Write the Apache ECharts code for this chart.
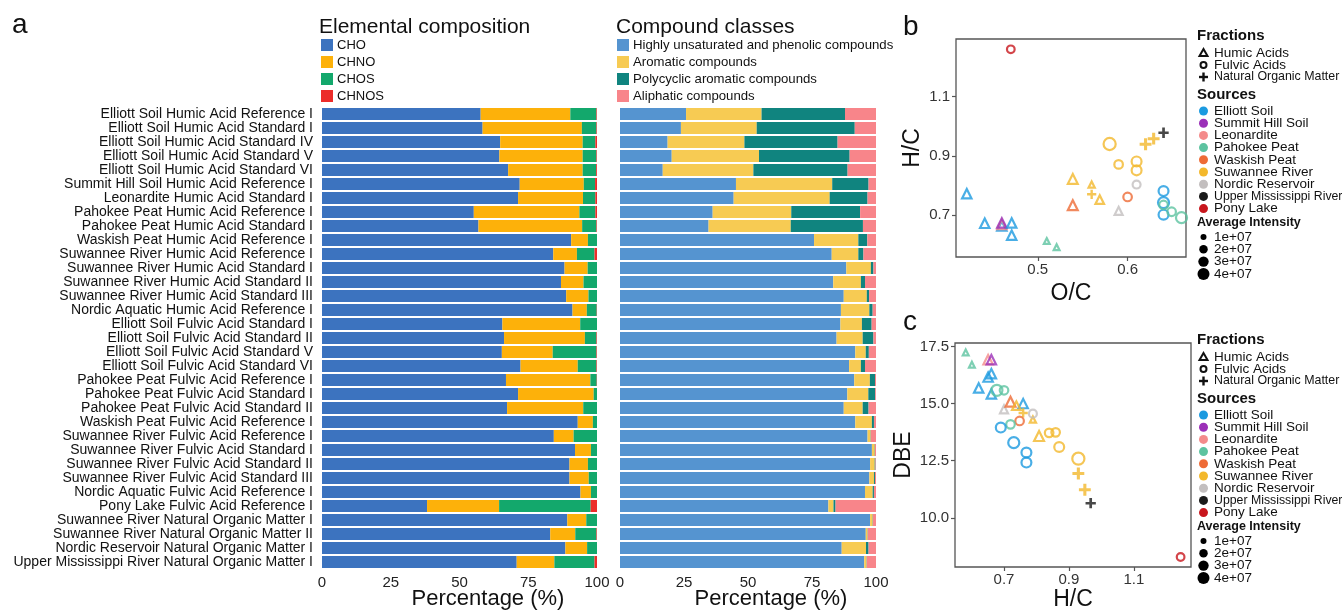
<!DOCTYPE html>
<html><head><meta charset="utf-8">
<script src="https://cdn.jsdelivr.net/npm/echarts@6/dist/echarts.min.js"></script>
<style>html,body{margin:0;padding:0;background:#fff}#c{width:1342px;height:612px}</style>
</head><body><div id="c"></div>
<script>
const samples = [
 'Elliott Soil Humic Acid Reference I','Elliott Soil Humic Acid Standard I','Elliott Soil Humic Acid Standard IV',
 'Elliott Soil Humic Acid Standard V','Elliott Soil Humic Acid Standard VI','Summit Hill Soil Humic Acid Reference I',
 'Leonardite Humic Acid Standard I','Pahokee Peat Humic Acid Reference I','Pahokee Peat Humic Acid Standard I',
 'Waskish Peat Humic Acid Reference I','Suwannee River Humic Acid Reference I','Suwannee River Humic Acid Standard I',
 'Suwannee River Humic Acid Standard II','Suwannee River Humic Acid Standard III','Nordic Aquatic Humic Acid Reference I',
 'Elliott Soil Fulvic Acid Standard I','Elliott Soil Fulvic Acid Standard II','Elliott Soil Fulvic Acid Standard V',
 'Elliott Soil Fulvic Acid Standard VI','Pahokee Peat Fulvic Acid Reference I','Pahokee Peat Fulvic Acid Standard I',
 'Pahokee Peat Fulvic Acid Standard II','Waskish Peat Fulvic Acid Reference I','Suwannee River Fulvic Acid Reference I',
 'Suwannee River Fulvic Acid Standard I','Suwannee River Fulvic Acid Standard II','Suwannee River Fulvic Acid Standard III',
 'Nordic Aquatic Fulvic Acid Reference I','Pony Lake Fulvic Acid Reference I','Suwannee River Natural Organic Matter I',
 'Suwannee River Natural Organic Matter II','Nordic Reservoir Natural Organic Matter I','Upper Mississippi River Natural Organic Matter I'
];
// Elemental composition (%)
const cho   = [57.7,58.4,64.8,64.5,67.7,71.9,71.3,55.2,56.9,90.6,84.1,88.2,86.9,88.8,91.1,65.6,66.2,65.4,72.2,66.9,71.3,67.3,93.0,84.3,92.0,90.0,90.0,94.0,38.2,89.2,83.0,88.5,70.8];
const chno  = [32.6,36.1,30.0,30.3,27.1,23.3,23.6,38.4,37.7,6.1,8.6,8.4,8.2,8.1,5.2,28.3,29.4,18.5,20.8,30.7,27.5,27.7,5.5,7.2,5.8,6.7,7.0,3.8,26.2,6.9,9.1,7.9,13.7];
const chos  = [9.5,5.3,4.6,5.0,4.9,4.1,4.5,5.8,5.2,3.3,6.4,3.4,4.9,3.1,3.6,6.1,4.2,15.9,6.8,2.3,1.2,5.0,1.5,8.5,2.2,3.3,3.0,2.2,33.3,3.9,7.7,3.6,14.6];
const chnos = [0.2,0.2,0.6,0.2,0.3,0.7,0.6,0.6,0.2,0.0,0.9,0.0,0.0,0.0,0.1,0.0,0.2,0.2,0.2,0.1,0.0,0.0,0.0,0.0,0.0,0.0,0.0,0.0,2.3,0.0,0.2,0.0,0.9];
// Compound classes (%)
const hup   = [25.8,23.8,18.6,20.2,16.7,45.3,44.4,36.2,34.6,75.8,82.7,88.4,83.3,87.4,86.3,86.1,84.6,91.9,89.5,91.5,88.8,87.4,91.9,96.7,98.4,97.7,97.4,95.7,81.4,97.7,96.0,86.6,95.4];
const arom  = [29.5,29.6,30.0,34.1,35.4,37.6,37.5,30.7,32.1,17.3,10.4,9.6,10.8,9.0,11.1,8.4,10.2,4.1,4.6,6.1,8.2,7.4,6.5,1.2,1.1,1.8,1.8,3.0,2.0,1.0,0.7,9.5,0.9];
const poly  = [32.6,38.3,36.4,35.4,36.8,14.2,14.8,26.9,28.2,3.5,2.0,1.0,1.6,0.9,1.3,3.8,4.2,1.2,1.6,2.0,2.7,2.3,0.8,0.1,0.1,0.3,0.4,0.5,0.8,0.1,0.1,1.0,0.1];
const aliph = [12.1,8.3,15.0,10.3,11.1,2.9,3.3,6.2,5.1,3.4,4.9,1.0,4.3,2.7,1.3,1.7,1.0,2.8,4.3,0.4,0.3,2.9,0.8,2.0,0.4,0.2,0.4,0.8,15.8,1.2,3.2,2.9,3.6];

const elemNames = ['CHO','CHNO','CHOS','CHNOS'];
const compNames = ['Highly unsaturated and phenolic compounds','Aromatic compounds','Polycyclic aromatic compounds','Aliphatic compounds'];
const sources = ['Elliott Soil','Summit Hill Soil','Leonardite','Pahokee Peat','Waskish Peat','Suwannee River','Nordic Reservoir','Upper Mississippi River','Pony Lake'];
const fractions = ['Humic Acids','Fulvic Acids','Natural Organic Matter'];
const intensityTicks = [1,2,3,4];
const intensityLabels = ['1e+07','2e+07','3e+07','4e+07'];

// panel b: O/C vs H/C  (source index, fraction H/F/N, intensity in 1e7)
const bOC  = [0.470,0.421,0.441,0.460,0.460,0.460,0.471,0.471,0.510,0.521,0.539,0.539,0.560,0.560,0.569,0.590,0.600,0.610,0.580,0.590,0.610,0.610,0.620,0.629,0.640,0.640,0.640,0.640,0.640,0.649,0.660];
const bHC  = [1.260,0.772,0.672,0.663,0.668,0.673,0.673,0.632,0.612,0.591,0.822,0.733,0.803,0.770,0.752,0.714,0.761,0.803,0.940,0.871,0.881,0.851,0.939,0.958,0.978,0.781,0.742,0.701,0.734,0.711,0.691];
const bSrc = [8,0,0,0,2,1,0,0,3,3,5,4,5,5,5,6,4,6,5,5,5,5,5,5,7,0,0,0,3,3,3];
const bFr  = ['F','H','H','H','H','H','H','H','H','H','H','H','H','N','H','H','F','F','F','F','F','F','N','N','N','F','F','F','F','F','F'];
const bInt = [1.2,1.8,1.8,1.8,1.8,1.8,1.8,1.8,0.7,0.7,2.0,2.0,0.8,1.2,1.5,1.3,1.5,1.3,3.0,1.5,2.0,2.0,2.0,2.0,1.5,2.0,2.5,2.0,1.5,1.5,2.5];

// panel c: H/C vs DBE
const cHC  = [0.582,0.601,0.651,0.661,0.661,0.651,0.622,0.661,0.759,0.678,0.700,0.700,0.720,0.738,0.759,0.789,0.789,0.748,0.720,0.690,0.730,0.769,0.769,0.808,0.839,0.859,0.870,0.929,0.929,0.949,0.967,1.244];
const cDBE = [17.24,16.70,16.92,16.92,16.31,16.16,15.68,15.42,15.00,15.58,15.58,14.75,15.08,14.91,14.59,14.30,14.56,14.24,14.09,13.95,13.29,12.86,12.42,13.58,13.72,13.74,13.10,12.59,11.94,11.23,10.64,8.29];
const cSrc = [3,3,2,1,0,0,0,0,0,3,3,6,4,5,5,5,6,4,3,0,0,0,0,5,5,5,5,5,5,5,7,8];
const cFr  = ['H','H','H','H','H','H','H','H','H','F','F','H','H','H','N','H','F','F','F','F','F','F','F','H','F','F','F','F','N','N','N','F'];
const cInt = [0.7,0.7,1.8,1.8,1.8,1.8,1.8,1.8,1.8,2.5,1.5,1.3,2.0,1.5,1.2,0.8,1.3,1.5,1.5,2.0,2.5,2.0,2.0,2.0,1.5,1.5,2.0,3.0,2.0,2.0,1.5,1.2];

const elemColors = ['#3C73BF','#FDB10A','#13A86C','#EC2D2A'];
const compColors = ['#5594D0','#F7CB53','#10847F','#F8858A'];
const srcColors = ['#1B9AE0','#9B30B8','#F48B8B','#5DC3A0','#EE6B36','#F3B82C','#C3BFBF','#1A1A1A','#C8161D'];
const FONT = 'Liberation Sans, Arial, sans-serif';

const chart = echarts.init(document.getElementById('c'), null, {renderer:'canvas'});

function sz(v){ return 7*Math.sqrt(v); }
const plusPath = 'path://M0,3.7L3.7,3.7L3.7,0L6.3,0L6.3,3.7L10,3.7L10,6.3L6.3,6.3L6.3,10L3.7,10L3.7,6.3L0,6.3Z';
function pointItem(x,y,src,fr,inten){
  const col = srcColors[src];
  if(fr==='N') return {value:[x,y], symbol:plusPath, symbolSize:sz(inten)*1.2, itemStyle:{color:col}};
  return {value:[x,y], symbol: fr==='H'?'triangle':'circle', symbolSize:sz(inten),
    itemStyle:{color:'rgba(0,0,0,0)', borderColor:col, borderWidth:2.2}};
}
const bData = bOC.map((x,i)=>pointItem(x,bHC[i],bSrc[i],bFr[i],bInt[i]));
const cData = cHC.map((x,i)=>pointItem(x,cDBE[i],cSrc[i],cFr[i],cInt[i]));

const elemVals = [cho,chno,chos,chnos];
const compVals = [hup,arom,poly,aliph];

const barSeries = [];
elemNames.forEach((n,k)=>barSeries.push({name:n,type:'bar',stack:'e',xAxisIndex:0,yAxisIndex:0,data:elemVals[k],
  itemStyle:{color:elemColors[k]},barCategoryGap:'14%'}));
compNames.forEach((n,k)=>barSeries.push({name:n,type:'bar',stack:'c',xAxisIndex:1,yAxisIndex:1,data:compVals[k],
  itemStyle:{color:compColors[k]},barCategoryGap:'14%'}));

// graphic legends / titles
const g = [];
function txt(x,y,s,opt){ g.push(Object.assign({type:'text',x:x,y:y,style:Object.assign({text:s,fill:'#111',font:'13px '+FONT,textVerticalAlign:'middle'},opt||{})})); }
txt(12,25,'a',{font:'28px '+FONT});
txt(903,27,'b',{font:'28px '+FONT});
txt(903,322,'c',{font:'28px '+FONT});
txt(319,27,'Elemental composition',{font:'21px '+FONT});
txt(616,27,'Compound classes',{font:'21px '+FONT});
txt(488,599,'Percentage (%)',{font:'22px '+FONT,textAlign:'center'});
txt(771,599,'Percentage (%)',{font:'22px '+FONT,textAlign:'center'});
elemNames.forEach((n,k)=>{
  const y = 45 + k*17;
  g.push({type:'rect',shape:{x:321,y:y-6,width:12,height:12},style:{fill:elemColors[k]}});
  txt(337,y,n,{font:'13px '+FONT});
});
compNames.forEach((n,k)=>{
  const y = 45 + k*17;
  g.push({type:'rect',shape:{x:617,y:y-6,width:12,height:12},style:{fill:compColors[k]}});
  txt(633,y,n,{font:'13.2px '+FONT});
});
function scatterLegend(y0){
  const sx = 1203.5, tx = 1214;
  txt(1197,y0,'Fractions',{font:'bold 15px '+FONT});
  let y = y0+17;
  g.push({type:'polygon',shape:{points:[[sx,y-4],[sx-4,y+3],[sx+4,y+3]]},style:{fill:'none',stroke:'#111',lineWidth:2}});
  txt(tx,y,fractions[0],{font:'13.5px '+FONT});
  y = y0+29;
  g.push({type:'circle',shape:{cx:sx,cy:y,r:3},style:{fill:'none',stroke:'#111',lineWidth:2}});
  txt(tx,y,fractions[1],{font:'13.5px '+FONT});
  y = y0+41;
  g.push({type:'rect',shape:{x:sx-4.5,y:y-1.2,width:9,height:2.4},style:{fill:'#111'}});
  g.push({type:'rect',shape:{x:sx-1.2,y:y-4.5,width:2.4,height:9},style:{fill:'#111'}});
  txt(tx,y,fractions[2],{font:'12.4px '+FONT});
  txt(1197,y0+59,'Sources',{font:'bold 15px '+FONT});
  sources.forEach((s,i)=>{
    const yy = y0+75+i*12.2;
    g.push({type:'circle',shape:{cx:sx,cy:yy,r:4.5},style:{fill:srcColors[i]}});
    txt(tx,yy,s,{font:(i===7?'12.3px ':'13.5px ')+FONT});
  });
  txt(1197,y0+187,'Average Intensity',{font:'bold 12.5px '+FONT});
  intensityTicks.forEach((v,i)=>{
    const yy = y0+201+i*12.3;
    g.push({type:'circle',shape:{cx:sx,cy:yy,r:3*Math.sqrt(v)},style:{fill:'#000'}});
    txt(tx,yy,intensityLabels[i],{font:'13.5px '+FONT});
  });
}
scatterLegend(36);
scatterLegend(340);

const tickStyle = {show:true,length:4,lineStyle:{color:'#555',width:1.2}};
const option = {
  animation:false,
  backgroundColor:'#fff',
  textStyle:{fontFamily:FONT},
  grid:[
    {left:322,top:107,width:275,height:462,outerBoundsMode:'none'},
    {left:620,top:107,width:256,height:462,outerBoundsMode:'none'},
    {left:956,top:39,width:230,height:218,show:true,borderColor:'#555',borderWidth:1.3,backgroundColor:'transparent',outerBoundsMode:'none'},
    {left:955,top:343,width:236,height:224,show:true,borderColor:'#555',borderWidth:1.3,backgroundColor:'transparent',outerBoundsMode:'none'}
  ],
  xAxis:[
    {type:'value',gridIndex:0,min:0,max:100,interval:25,axisLine:{show:false},axisTick:{show:false},splitLine:{show:false},
     axisLabel:{fontSize:15,color:'#222',margin:6}},
    {type:'value',gridIndex:1,min:0,max:100,interval:25,axisLine:{show:false},axisTick:{show:false},splitLine:{show:false},
     axisLabel:{fontSize:15,color:'#222',margin:6}},
    {type:'value',gridIndex:2,min:0.409,max:0.665,axisLine:{show:false},splitLine:{show:false},
     axisTick:Object.assign({customValues:[0.5,0.6]},tickStyle),
     axisLabel:{customValues:[0.5,0.6],fontSize:15,color:'#333',margin:5,formatter:v=>v.toFixed(1)},
     name:'O/C',nameLocation:'middle',nameGap:25,nameTextStyle:{fontSize:23,color:'#111'}},
    {type:'value',gridIndex:3,min:0.549,max:1.276,axisLine:{show:false},splitLine:{show:false},
     axisTick:Object.assign({customValues:[0.7,0.9,1.1]},tickStyle),
     axisLabel:{customValues:[0.7,0.9,1.1],fontSize:15,color:'#333',margin:5,formatter:v=>v.toFixed(1)},
     name:'H/C',nameLocation:'middle',nameGap:21,nameTextStyle:{fontSize:23,color:'#111'}}
  ],
  yAxis:[
    {type:'category',gridIndex:0,data:samples,inverse:true,axisLine:{show:false},axisTick:{show:false},
     axisLabel:{fontSize:14,color:'#111',margin:9,interval:0}},
    {type:'category',gridIndex:1,data:samples,inverse:true,axisLine:{show:false},axisTick:{show:false},axisLabel:{show:false}},
    {type:'value',gridIndex:2,min:0.558,max:1.295,axisLine:{show:false},splitLine:{show:false},
     axisTick:Object.assign({customValues:[0.7,0.9,1.1]},tickStyle),
     axisLabel:{customValues:[0.7,0.9,1.1],fontSize:15,color:'#333',margin:6,formatter:v=>v.toFixed(1)},
     name:'H/C',nameLocation:'middle',nameGap:32,nameRotate:90,nameTextStyle:{fontSize:23,color:'#111'}},
    {type:'value',gridIndex:3,min:7.85,max:17.65,axisLine:{show:false},splitLine:{show:false},
     axisTick:Object.assign({customValues:[10,12.5,15,17.5]},tickStyle),
     axisLabel:{customValues:[10,12.5,15,17.5],fontSize:15,color:'#333',margin:6,formatter:v=>v.toFixed(1)},
     name:'DBE',nameLocation:'middle',nameGap:40,nameRotate:90,nameTextStyle:{fontSize:23,color:'#111'}}
  ],
  series: barSeries.concat([
    {type:'scatter',xAxisIndex:2,yAxisIndex:2,data:bData},
    {type:'scatter',xAxisIndex:3,yAxisIndex:3,data:cData}
  ]),
  graphic:g
};
chart.setOption(option);
</script></body></html>
